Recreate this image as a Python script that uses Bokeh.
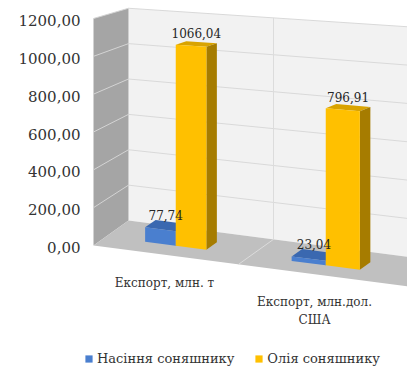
from bokeh.plotting import figure
from bokeh.models import Range1d, FixedTicker, ColumnDataSource, Legend, LegendItem
from bokeh.core.properties import value
from bokeh.embed import file_html
from bokeh.resources import INLINE

# ---------------- data ----------------
categories = ["Експорт, млн. т", "Експорт, млн.дол.\nСША"]
series_names = ["Насіння соняшнику", "Олія соняшнику"]
seeds = [77.74, 23.04]
oil = [1066.04, 796.91]
y_ticks = [0, 200, 400, 600, 800, 1000, 1200]
y_tick_labels = ["0,00", "200,00", "400,00", "600,00", "800,00", "1000,00", "1200,00"]

# ---------------- styles / pseudo-3D projection ----------------
FONT = "DejaVu Serif"
W, H = 407, 366
LEFT = 84
Y0 = 247.0                 # screen y of value 0 on the axis
S_AX = 227.0 / 1200.0      # px per unit at the front-left edge
FL_X, FL_Y = 93.0, 245.0   # front-left floor corner (screen)
DEP_X, DEP_Y = 35.0, -25.0 # screen offset of full depth
SLOPE = 0.13
KX, KD = 0.0003, 0.065
DX_END = 320.0
CAT0, CAT_W = 70.0, 150.0
BAR_W = 29.0
D0, D1 = 0.35, 0.65
VMAX = y_ticks[-1]

def proj(dx, v, d):
    px = FL_X + dx + DEP_X * d
    base = FL_Y + SLOPE * dx + DEP_Y * d
    s = S_AX * (1 + KX * dx) * (1 - KD * d)
    py = base - v * s
    return px, (Y0 - py) / S_AX

def poly(pts):
    xs, ys = zip(*[proj(*p) for p in pts])
    return list(xs), list(ys)

p = figure(width=W, height=H, x_range=Range1d(LEFT, W),
           y_range=Range1d((Y0 - H) / S_AX, Y0 / S_AX),
           x_axis_location=None, y_axis_location="left",
           output_backend="svg", toolbar_location=None,
           min_border_left=LEFT, min_border_right=0,
           min_border_top=0, min_border_bottom=0)
p.outline_line_color = None
p.grid.visible = False
p.background_fill_color = "white"
p.border_fill_color = "white"

yax = p.yaxis[0]
yax.ticker = FixedTicker(ticks=y_ticks)
yax.major_label_overrides = {t: l for t, l in zip(y_ticks, y_tick_labels)}
yax.axis_line_color = None
yax.major_tick_line_color = None
yax.minor_tick_line_color = None
yax.major_tick_out = 0
yax.major_tick_in = 0
yax.major_label_standoff = 4
yax.major_label_text_font = FONT
yax.major_label_text_font_size = "15px"
yax.major_label_text_color = "#333333"

# walls and floor
walls = {"xs": [], "ys": [], "c": []}
for pts, c in [
    ([(0, 0, 1), (DX_END, 0, 1), (DX_END, VMAX, 1), (0, VMAX, 1)], "#f2f2f2"),
    ([(0, 0, 0), (0, 0, 1), (0, VMAX, 1), (0, VMAX, 0)], "#a5a5a5"),
    ([(0, 0, 0), (DX_END, 0, 0), (DX_END, 0, 1), (0, 0, 1)], "#c0c0c0"),
]:
    xs, ys = poly(pts)
    walls["xs"].append(xs); walls["ys"].append(ys); walls["c"].append(c)
p.patches("xs", "ys", fill_color="c", line_color=None, source=ColumnDataSource(walls))

# gridlines
gl = {"xs": [], "ys": [], "c": []}
for v in y_ticks[1:]:
    for pts, c in [([(0, v, 0), (0, v, 1)], "#d4d4d4"), ([(0, v, 1), (DX_END, v, 1)], "#d9d9d9")]:
        xs, ys = poly(pts)
        gl["xs"].append(xs); gl["ys"].append(ys); gl["c"].append(c)
mid = CAT0 + CAT_W / 2
for pts in ([(mid, 0, 0), (mid, 0, 1)], [(mid, 0, 1), (mid, VMAX, 1)]):
    xs, ys = poly(pts)
    gl["xs"].append(xs); gl["ys"].append(ys); gl["c"].append("#dcdcdc")
p.multi_line("xs", "ys", line_color="c", line_width=1, source=ColumnDataSource(gl))

# bars
colors = [("#4a7fcf", "#3a68b0", "#2f5597"), ("#ffc000", "#d9a300", "#a67c00")]
lab = {"x": [], "y": [], "t": []}
series = [seeds, oil]
front_src = [{"xs": [], "ys": []} for _ in series]
other_src = [{"xs": [], "ys": [], "c": []} for _ in series]
for i, cat in enumerate(categories):
    dxc = CAT0 + i * CAT_W
    bw = BAR_W * (1 + 0.0008 * dxc)
    for k, vals in enumerate(series):
        v = vals[i]
        a = dxc - bw + k * bw
        b = a + bw
        xs, ys = poly([(a, 0, D0), (b, 0, D0), (b, v, D0), (a, v, D0)])
        front_src[k]["xs"].append(xs); front_src[k]["ys"].append(ys)
        xs, ys = poly([(a, v, D0), (b, v, D0), (b, v, D1), (a, v, D1)])
        other_src[k]["xs"].append(xs); other_src[k]["ys"].append(ys); other_src[k]["c"].append(colors[k][1])
        xs, ys = poly([(b, 0, D0), (b, 0, D1), (b, v, D1), (b, v, D0)])
        other_src[k]["xs"].append(xs); other_src[k]["ys"].append(ys); other_src[k]["c"].append(colors[k][2])
        lx, ly = proj((a + b) / 2, v, (D0 + D1) / 2)
        lab["x"].append(lx); lab["y"].append(ly + 11 / S_AX)
        lab["t"].append(f"{v:.2f}".replace(".", ","))

renderers = []
for k in range(len(series)):
    p.patches("xs", "ys", fill_color="c", line_color=None, source=ColumnDataSource(other_src[k]))
    r_front = p.patches("xs", "ys", fill_color=colors[k][0], line_color=None,
                        source=ColumnDataSource(front_src[k]))
    renderers.append(r_front)

p.text("x", "y", text="t", source=ColumnDataSource(lab), text_font=value(FONT),
       text_font_size="12px", text_color="#262626", text_align="center", text_baseline="middle")

# category labels
cl = {"x": [], "y": [], "t": []}
for i, cat in enumerate(categories):
    x, y = proj(CAT0 + i * CAT_W, 0, 0)
    cl["x"].append(x + 1); cl["y"].append(y - 21 / S_AX); cl["t"].append(cat)
p.text("x", "y", text="t", source=ColumnDataSource(cl), text_font=value(FONT),
       text_font_size="12px", text_color="#333333", text_align="center", text_baseline="top",
       text_line_height=1.3)

legend = Legend(items=[LegendItem(label=n, renderers=[r]) for n, r in zip(series_names, renderers)],
                orientation="horizontal", location=(0, 0), margin=0, padding=0,
                spacing=20, glyph_width=9, glyph_height=9, label_standoff=4,
                border_line_color=None, background_fill_alpha=0,
                label_text_font=FONT, label_text_font_size="13px", label_text_color="#333333")
p.add_layout(legend)

open("out.html", "w").write(file_html(p, INLINE))
